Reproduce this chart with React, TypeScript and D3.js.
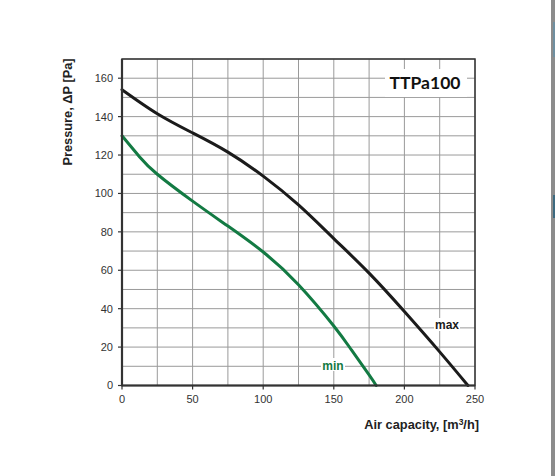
import * as d3 from 'd3'
import React from 'react';

// fan curve TTPa100
const flowMax = [0, 25, 50, 75, 100, 125, 150, 175, 200, 225, 245]
const pressMax = [154, 141.5, 131.5, 121.5, 109, 94, 76.5, 58.5, 38.5, 17.5, 0]
const flowMin = [0, 12.5, 25, 50, 75, 100, 125, 150, 162.5, 175, 180]
const pressMin = [130, 119, 110, 96, 83, 69.5, 52.5, 31, 18.5, 5.5, 0]
const xTicks = [0, 50, 100, 150, 200, 250]
const yTicks = [0, 20, 40, 60, 80, 100, 120, 140, 160]
const title = "TTPa100"

const W = 555, H = 476
const m = { left: 122, right: 475, top: 59, bottom: 385.5 }

const App = () => {
    const x = d3.scaleLinear().domain([0, 250]).range([m.left, m.right])
    const y = d3.scaleLinear().domain([0, 170]).range([m.bottom, m.top])
    const line = d3.line<[number, number]>()
        .x(d => x(d[0]))
        .y(d => y(d[1]))
        .curve(d3.curveNatural)
    const maxPts = flowMax.map((f, i) => [f, pressMax[i]] as [number, number])
    const minPts = flowMin.map((f, i) => [f, pressMin[i]] as [number, number])
    const vGrid = d3.range(0, 251, 25)
    const hGrid = d3.range(0, 171, 10)
    const font = 'Arial, "Liberation Sans", sans-serif'
    return (
        <svg width={W} height={H} viewBox={`0 0 ${W} ${H}`}
            style={{ position: 'absolute', left: 0, top: 0, background: '#fff' }}>
            {/* grid */}
            <g stroke="#9a9a9a" strokeWidth={1}>
                {vGrid.map(v => <line key={'v' + v} x1={x(v)} x2={x(v)} y1={m.top} y2={m.bottom} />)}
                {hGrid.map(v => <line key={'h' + v} x1={m.left} x2={m.right} y1={y(v)} y2={y(v)} />)}
            </g>
            {/* title box hides grid */}
            <rect x={385} y={69} width={82} height={28} fill="#fff" />
            <text x={425} y={88.5} textAnchor="middle" fontFamily='Lato, "Open Sans", sans-serif'
                fontWeight="bold" fontSize={17.5} fill="#111">{title}</text>
            {/* curves */}
            <path d={line(maxPts) || ''} fill="none" stroke="#1b1b1b" strokeWidth={3} strokeLinecap="round" />
            <path d={line(minPts) || ''} fill="none" stroke="#137a43" strokeWidth={3} strokeLinecap="round" />
            {/* frame */}
            <rect x={m.left} y={m.top} width={m.right - m.left} height={m.bottom - m.top}
                fill="none" stroke="#333" strokeWidth={1.5} />
            <line x1={m.left} x2={m.left} y1={m.top} y2={m.bottom + 0.8} stroke="#333" strokeWidth={2.2} />
            <line x1={m.left} x2={m.right} y1={m.bottom} y2={m.bottom} stroke="#333" strokeWidth={2.2} />
            {/* curve labels */}
            <rect x={434} y={318} width={26} height={13} fill="#fff" />
            <text x={447} y={329} textAnchor="middle" fontFamily={font} fontWeight="bold" fontSize={12} fill="#1b1b1b">max</text>
            <rect x={321} y={358} width={24} height={13} fill="#fff" />
            <text x={333} y={369.5} textAnchor="middle" fontFamily={font} fontWeight="bold" fontSize={12} fill="#137a43">min</text>
            {/* ticks */}
            <g fontFamily={font} fontSize={11} fill="#333">
                {yTicks.map(t => (
                    <g key={'yt' + t}>
                        <line x1={m.left - 4} x2={m.left} y1={y(t)} y2={y(t)} stroke="#333" strokeWidth={1.2} />
                        <text x={113} y={y(t)} dy="0.36em" textAnchor="end">{t}</text>
                    </g>
                ))}
                {xTicks.map(t => (
                    <g key={'xt' + t}>
                        <line x1={x(t)} x2={x(t)} y1={m.bottom} y2={m.bottom + 4} stroke="#333" strokeWidth={1.2} />
                        <text x={x(t)} y={403} textAnchor="middle">{t}</text>
                    </g>
                ))}
            </g>
            {/* axis titles */}
            <text transform="translate(71.5 112) rotate(-90)" textAnchor="middle" fontFamily={font}
                fontWeight="bold" fontSize={12.8} fill="#222">Pressure, ΔP [Pa]</text>
            <text x={479} y={429} textAnchor="end" fontFamily={font} fontWeight="bold" fontSize={12.8} fill="#222">
                Air capacity, [m<tspan fontSize={8.5} dy={-4.5}>3</tspan><tspan dy={4.5}>/h]</tspan>
            </text>
            {/* edge of the neighbouring window in the screenshot */}
            <rect x={551} y={0} width={4} height={H} fill="#8c8c8c" />
            <rect x={553} y={22} width={2} height={35} fill="#6f8fa0" />
            <rect x={553} y={195} width={2} height={23} fill="#3d6a80" />
        </svg>
    )
}

export default App
